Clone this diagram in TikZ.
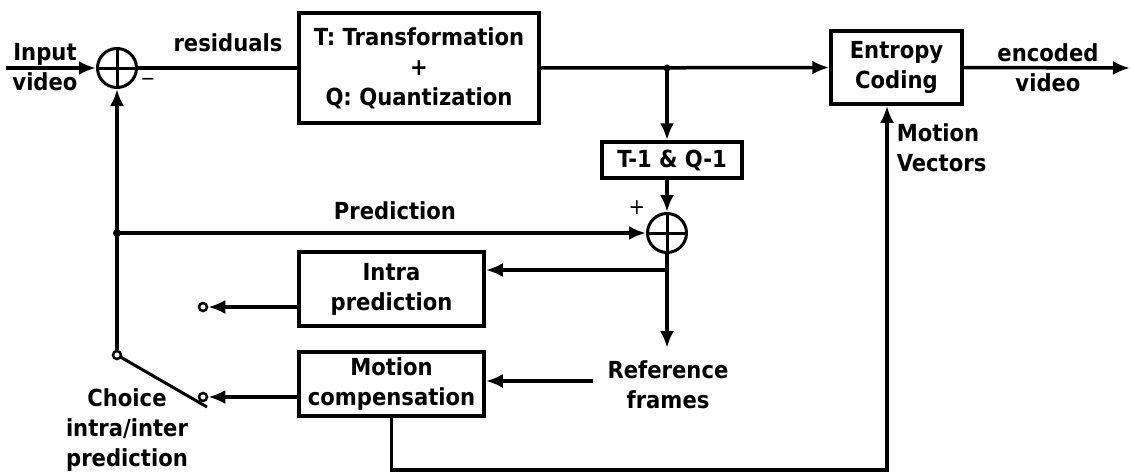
\documentclass[tikz,border=0pt]{standalone}
\usepackage{fontspec}
\setmainfont{DejaVu Sans Condensed}
\usetikzlibrary{arrows.meta}
\begin{document}
\begin{tikzpicture}[x=1pt,y=-1pt, line width=3.5pt,
  every node/.style={font=\fontsize{23.5}{30}\selectfont\bfseries},
  box/.style={draw, line width=3.5pt, inner sep=0pt, align=center},
  sumc/.style={draw, circle, line width=3pt, minimum size=39pt, inner sep=0pt},
  pin/.style={draw, circle, line width=2.5pt, minimum size=8pt, inner sep=0pt, fill=white},
  arr/.style={-{Latex[length=17pt,width=14pt]}},
  lbl/.style={align=center, inner sep=0pt}]
\useasboundingbox (0,0) rectangle (1130,474);

% blocks
\node[sumc] (s1) at (117,68) {};
\draw[line width=3pt] (s1.north) -- (s1.south) (s1.west) -- (s1.east);
\node[box, minimum width=240pt, minimum height=110pt] (tq) at (419,68) {T: Transformation\\+\\Q: Quantization};
\node[box, minimum width=131pt, minimum height=73pt] (ec) at (896.5,67.5) {Entropy\\Coding};
\node[box, minimum width=140pt, minimum height=36pt] (iq) at (672,160) {T-1 \& Q-1};
\node[sumc] (s2) at (667,233) {};
\draw[line width=3pt] (s2.north) -- (s2.south) (s2.west) -- (s2.east);
\node[box, minimum width=185pt, minimum height=74pt] (intra) at (391.5,289) {Intra\\prediction};
\node[box, minimum width=185pt, minimum height=64pt] (mc) at (391.5,384) {Motion\\compensation};

% coordinates
\coordinate (in) at (6,68);
\coordinate (j1) at (667,68);
\coordinate (out) at (1130,68);
\coordinate (dp) at (117,233);
\coordinate (j2) at (667,270);
\coordinate (rt) at (667,348);
\coordinate (rs) at (593,381);
\coordinate (sw) at (207,407);
\coordinate (mv2) at (887,470);
\node[pin] (c1) at (203,307) {};
\node[pin] (c2) at (203,397) {};
\node[pin] (pv) at (117,355) {};

% connectors
\draw[arr] (in) -- (s1.west);
\draw (s1.east) -- (tq.west);
\draw[arr] (tq.east) -- (ec.west);
\fill (j1) circle (3.5pt);
\draw[arr] (j1) -- (j1 |- iq.north);
\draw[arr] (s2.north |- iq.south) -- (s2.north);
\fill (dp) circle (4pt);
\draw[arr] (dp) -- (s2.west);
\draw[arr] (s2.south) -- (rt);
\draw[arr] (j2) -- (j2 -| intra.east);
\draw[arr] (intra.west |- c1) -- (c1.east);
\draw[arr] (rs) -- (rs -| mc.east);
\draw[arr] (mc.west |- c2) -- (c2.east);
\draw (pv.north) -- (dp);
\draw[arr] (dp) -- (s1.south);
\draw[line width=3pt, shorten <=4pt] (pv.center) -- (sw);
\draw[arr] (mc.south) -- (mc.south |- mv2) -- (mv2) -- (mv2 |- ec.south);
\draw[arr] (ec.east) -- (out);

% labels
\node[lbl] (l1) at (45,67) {Input\\video};
\node[lbl] (l2) at (228,43) {residuals};
\node[lbl] (l3) at (1048,68) {encoded\\video};
\node[lbl, align=left, anchor=west] (l4) at (895,148) {Motion\\Vectors};
\node[lbl] (l5) at (395,211) {Prediction};
\node[lbl] (l6) at (668,385) {Reference\\frames};
\node[lbl] (l7) at (127,430) {Choice\\intra/inter\\prediction};
\node[inner sep=0pt, font=\fontsize{20}{20}\selectfont] (m1) at (148,82) {−};
\node[inner sep=0pt, font=\fontsize{22}{22}\selectfont] (p1) at (637,208) {+};
\end{tikzpicture}
\end{document}
